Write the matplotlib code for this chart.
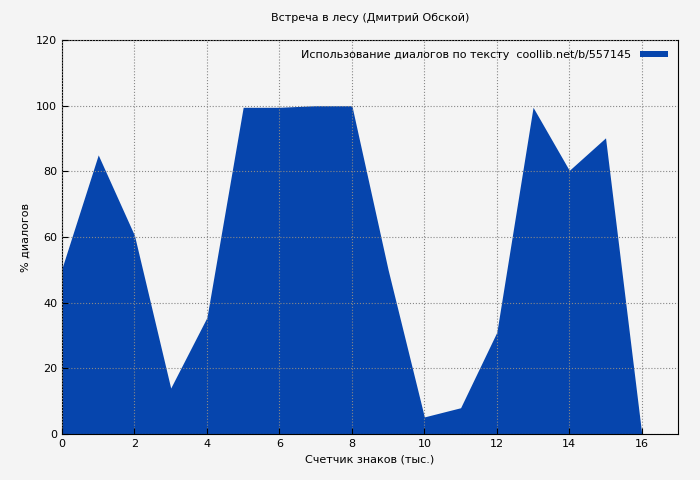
import matplotlib
matplotlib.use('Agg')
import matplotlib.pyplot as plt

# values
counter = [0, 1, 2, 3, 4, 5, 6, 7, 8, 9, 10, 11, 12, 13, 14, 15, 16]
dialog_pct = [50.5, 85, 60.5, 14, 35.5, 99.5, 99.5, 100, 100, 50, 5.2, 8, 31, 99.5, 80.3, 90.2, 0]
series_label = 'Использование диалогов по тексту  coollib.net/b/557145'

fig = plt.figure(figsize=(7, 4.8), dpi=100, facecolor='#f4f4f4')
ax = fig.add_axes([62/700, 46/480, 616/700, 394/480])
ax.set_facecolor('#f4f4f4')

ax.fill_between(counter, dialog_pct, 0, color='#0645ad', linewidth=0, label=series_label)

ax.set_xlim(0, 17)
ax.set_ylim(0, 120)
ax.set_xticks(range(0, 17, 2))
ax.set_yticks(range(0, 121, 20))
ax.tick_params(labelsize=8, direction='in', length=4)
ax.grid(True, linestyle=':', color='#888888', linewidth=0.8)
ax.set_axisbelow(False)

ax.set_title('Встреча в лесу (Дмитрий Обской)', fontsize=8, pad=14)
ax.set_xlabel('Счетчик знаков (тыс.)', fontsize=8)
ax.set_ylabel('% диалогов', fontsize=8)

leg = ax.legend(loc='upper right', fontsize=8, frameon=False, markerfirst=False,
                handlelength=2.5, handleheight=0.5)

fig.savefig('out.png', dpi=100, facecolor=fig.get_facecolor())
